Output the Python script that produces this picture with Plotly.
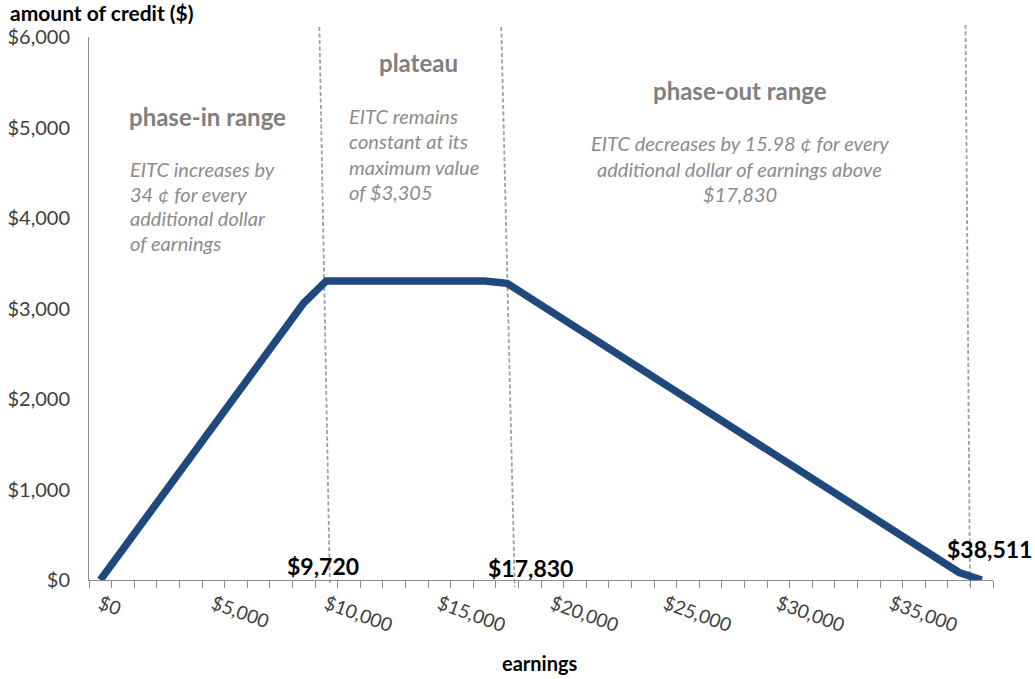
import plotly.graph_objects as go

# ---- data ----
earnings = [i * 1000 for i in range(40)]
credit = [0, 340, 680, 1020, 1360, 1700, 2040, 2380, 2720, 3060,
          3305, 3305, 3305, 3305, 3305, 3305, 3305, 3305, 3278, 3118,
          2959, 2799, 2639, 2479, 2320, 2160, 2000, 1840, 1681, 1521,
          1361, 1201, 1041, 882, 722, 562, 402, 243, 83, 0]
x_tick_vals = [0, 5000, 10000, 15000, 20000, 25000, 30000, 35000]
x_tick_text = ["$0", "$5,000", "$10,000", "$15,000", "$20,000", "$25,000", "$30,000", "$35,000"]
y_tick_vals = [0, 1000, 2000, 3000, 4000, 5000, 6000]
y_tick_text = ["$0", "$1,000", "$2,000", "$3,000", "$4,000", "$5,000", "$6,000"]
threshold_labels = ["$9,720", "$17,830", "$38,511"]

FONT = "Lato"
AXIS_GRAY = "#8c8c8c"
TEXT_GRAY = "#808080"
ITAL_GRAY = "#8c8c8c"

W, H = 1035, 679
# plot area in page pixels
L, R, T, B = 89, 993.5, 37, 580


def px(x):
    return (x - L) / (R - L)


def py(y):
    return (B - y) / (B - T)


fig = go.Figure()
fig.add_trace(go.Scatter(
    x=earnings, y=credit, mode="lines",
    line=dict(color="#1F497D", width=7.5),
    hoverinfo="skip", showlegend=False,
))

shapes = []
for (x0, y0, x1, y1) in [(319.5, 27, 330, 583), (501.5, 27, 515, 587), (966, 25, 970.5, 586)]:
    shapes.append(dict(type="line", xref="paper", yref="paper",
                       x0=px(x0), y0=py(y0), x1=px(x1), y1=py(y1),
                       line=dict(color="#a0a0a0", width=1.8, dash="4px,2.5px"), layer="below"))

ann = []


def add(text, x, y, size, color, bold=False, italic=False, xanchor="center"):
    t = text
    if bold:
        t = "<b>" + t + "</b>"
    if italic:
        t = "<i>" + t + "</i>"
    ann.append(dict(text=t, x=px(x), y=py(y), xref="paper", yref="paper",
                    xanchor=xanchor, yanchor="middle", showarrow=False,
                    font=dict(family=FONT, size=size, color=color)))


# titles
add("amount of credit ($)", 8, 13, 21, "#000000", bold=True, xanchor="left")
add("earnings", 540, 663, 20, "#000000", bold=True)

# region headings
add("phase-in range", 208, 117, 24, TEXT_GRAY, bold=True)
add("plateau", 419, 63, 24, TEXT_GRAY, bold=True)
add("phase-out range", 740, 91, 24, TEXT_GRAY, bold=True)

for i, line in enumerate(["EITC increases by", "34 \u00a2 for every", "additional dollar", "of earnings"]):
    add(line, 128, 169 + 24.7 * i, 20, ITAL_GRAY, italic=True, xanchor="left")
for i, line in enumerate(["EITC remains", "constant at its", "maximum value", "of $3,305"]):
    add(line, 347, 116 + 25.3 * i, 20, ITAL_GRAY, italic=True, xanchor="left")
for i, line in enumerate(["EITC decreases by 15.98 \u00a2 for every",
                          "additional dollar of earnings above", "$17,830"]):
    add(line, 740, 143 + 25.5 * i, 20, ITAL_GRAY, italic=True)

# threshold labels
for lab, (x, y) in zip(threshold_labels, [(323, 566), (531, 568), (990, 549)]):
    add(lab, x, y, 23, "#000000", bold=True)

fig.update_layout(
    width=W, height=H,
    margin=dict(l=L, r=W - R, t=T, b=H - B, pad=0),
    paper_bgcolor="white", plot_bgcolor="white",
    shapes=shapes, annotations=ann,
    font=dict(family=FONT, color="#404040"),
    xaxis=dict(
        range=[-500, 39500], tickvals=x_tick_vals, ticktext=x_tick_text,
        tickangle=20, ticks="", showgrid=False, zeroline=False,
        showline=True, linecolor=AXIS_GRAY, linewidth=1, automargin=False,
        tickfont=dict(family=FONT, size=19, color="#404040"),
        ticklabelstandoff=5,
        minor=dict(tickvals=[-500 + 1000 * i for i in range(41)], ticks="outside",
                   ticklen=7, tickcolor=AXIS_GRAY, tickwidth=1, showgrid=False),
        fixedrange=True,
    ),
    yaxis=dict(
        range=[0, 6000], tickvals=y_tick_vals, ticktext=y_tick_text,
        ticks="", showgrid=False, zeroline=False, automargin=False,
        showline=True, linecolor=AXIS_GRAY, linewidth=1,
        tickfont=dict(family=FONT, size=20, color="#404040"),
        ticklabelstandoff=14, fixedrange=True,
    ),
)

fig.write_html(
    "out.html",
    config={"displayModeBar": False},
    post_script="document.body.style.margin='0';document.body.style.overflow='hidden';",
)
